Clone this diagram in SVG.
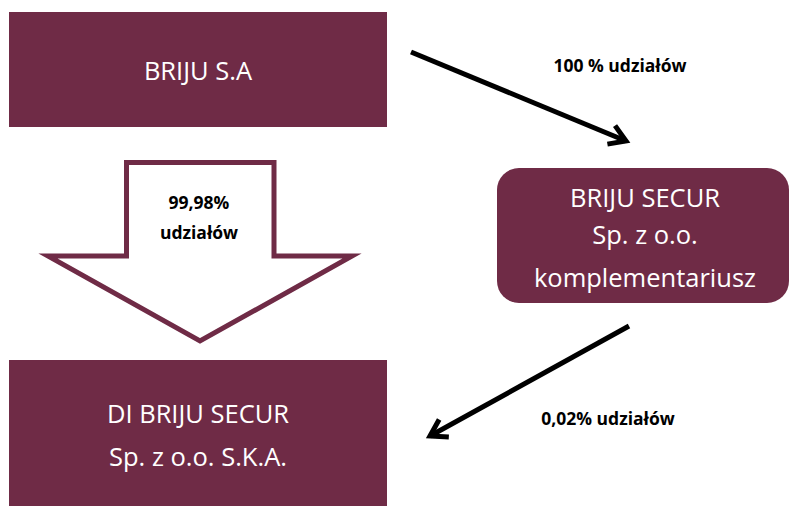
<svg xmlns="http://www.w3.org/2000/svg" width="792" height="506" viewBox="0 0 792 506">
<style>
.box{fill:#6f2b46}
.t{font-family:"Open Sans","Liberation Sans",sans-serif;font-size:25.5px;fill:#ffffff;text-anchor:middle}
.l{font-family:"Open Sans","Liberation Sans",sans-serif;font-size:17.5px;font-weight:bold;fill:#000000;text-anchor:middle}
.c{fill:none;stroke:#000000;stroke-width:5;stroke-linecap:butt}
</style>
<defs>
<marker id="ah" markerUnits="userSpaceOnUse" markerWidth="30" markerHeight="30" refX="20" refY="12" orient="auto" viewBox="0 0 30 24">
<path d="M4,2 L20,12 L4,22" fill="none" stroke="#000" stroke-width="5"/>
</marker>
</defs>
<rect width="792" height="506" fill="#ffffff"/>
<g id="briju-sa">
<rect class="box" x="9" y="12" width="378" height="115"/>
<text class="t" x="198" y="80">BRIJU S.A</text>
</g>
<g id="briju-secur">
<rect class="box" x="497" y="168" width="292" height="135" rx="22" ry="22"/>
<text class="t" x="645" y="207">BRIJU SECUR</text>
<text class="t" x="645" y="244">Sp. z o.o.</text>
<text class="t" x="645" y="287">komplementariusz</text>
</g>
<g id="di-briju-secur">
<rect class="box" x="9" y="360" width="378" height="146"/>
<text class="t" x="198" y="423">DI BRIJU SECUR</text>
<text class="t" x="198" y="466">Sp. z o.o. S.K.A.</text>
</g>
<g id="block-arrow">
<polygon points="126.5,162.5 274,162.5 274,256 352,256 200,341 48,256 126.5,256" fill="#ffffff" stroke="#6f2b46" stroke-width="5"/>
<text class="l" x="199" y="209">99,98%</text>
<text class="l" x="199" y="239">udziałów</text>
</g>
<g id="connectors">
<line class="c" x1="411" y1="52" x2="626" y2="141" marker-end="url(#ah)"/>
<line class="c" x1="629" y1="326" x2="430" y2="436" marker-end="url(#ah)"/>
<text class="l" x="620" y="72">100 % udziałów</text>
<text class="l" x="608" y="425">0,02% udziałów</text>
</g>
</svg>
